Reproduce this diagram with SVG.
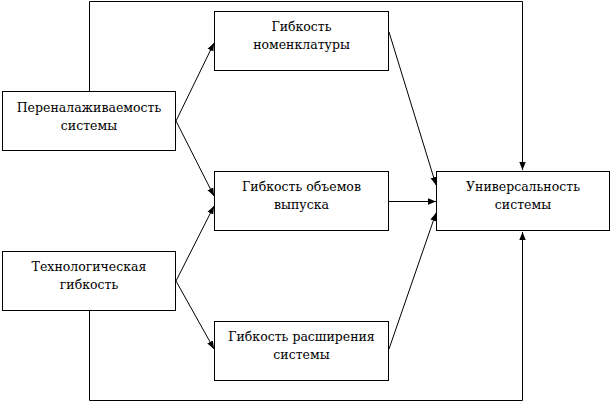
<svg xmlns="http://www.w3.org/2000/svg" width="614" height="402" viewBox="0 0 614 402">
<style>
.box{fill:#fff;stroke:#000;stroke-width:1}
.t{font-family:'DejaVu Serif','Liberation Serif',serif;font-size:12.5px;fill:#000;text-anchor:middle}
.c{fill:none;stroke:#000;stroke-width:1}
</style>
<defs>
<marker id="a" viewBox="0 0 10 10" refX="10" refY="5" markerWidth="8" markerHeight="8" markerUnits="userSpaceOnUse" orient="auto">
<path d="M0,1 L10,5 L0,9 Z" fill="#000"/>
</marker>
</defs>
<rect width="614" height="402" fill="#fff"/>
<g id="connectors">
<polyline class="c" points="89.5,91 89.5,1.5 522.5,1.5 522.5,170" marker-end="url(#a)"/>
<polyline class="c" points="89.5,311 89.5,400.5 522.5,400.5 522.5,232" marker-end="url(#a)"/>
<line class="c" x1="176" y1="121" x2="214" y2="43" marker-end="url(#a)"/>
<line class="c" x1="176" y1="121" x2="214" y2="196" marker-end="url(#a)"/>
<line class="c" x1="176" y1="281" x2="214" y2="206" marker-end="url(#a)"/>
<line class="c" x1="176" y1="281" x2="214" y2="349" marker-end="url(#a)"/>
<line class="c" x1="389" y1="32" x2="436" y2="185" marker-end="url(#a)"/>
<line class="c" x1="389" y1="201.5" x2="436" y2="201.5" marker-end="url(#a)"/>
<line class="c" x1="389" y1="349" x2="436" y2="213" marker-end="url(#a)"/>
</g>
<g id="n1">
<rect class="box" x="2.5" y="91.5" width="173" height="59"/>
<text class="t" x="89" y="112">Переналаживаемость</text>
<text class="t" x="89" y="130">системы</text>
</g>
<g id="n2">
<rect class="box" x="2.5" y="251.5" width="173" height="59"/>
<text class="t" x="89" y="271">Технологическая</text>
<text class="t" x="89" y="289">гибкость</text>
</g>
<g id="n3">
<rect class="box" x="214.5" y="11.5" width="174" height="59"/>
<text class="t" x="301.5" y="31">Гибкость</text>
<text class="t" x="301.5" y="49">номенклатуры</text>
</g>
<g id="n4">
<rect class="box" x="214.5" y="171.5" width="174" height="59"/>
<text class="t" x="301.5" y="191">Гибкость объемов</text>
<text class="t" x="301.5" y="209">выпуска</text>
</g>
<g id="n5">
<rect class="box" x="214.5" y="321.5" width="174" height="59"/>
<text class="t" x="301.5" y="341">Гибкость расширения</text>
<text class="t" x="301.5" y="359">системы</text>
</g>
<g id="n6">
<rect class="box" x="436.5" y="171.5" width="173" height="59"/>
<text class="t" x="523" y="191">Универсальность</text>
<text class="t" x="523" y="209">системы</text>
</g>
</svg>
